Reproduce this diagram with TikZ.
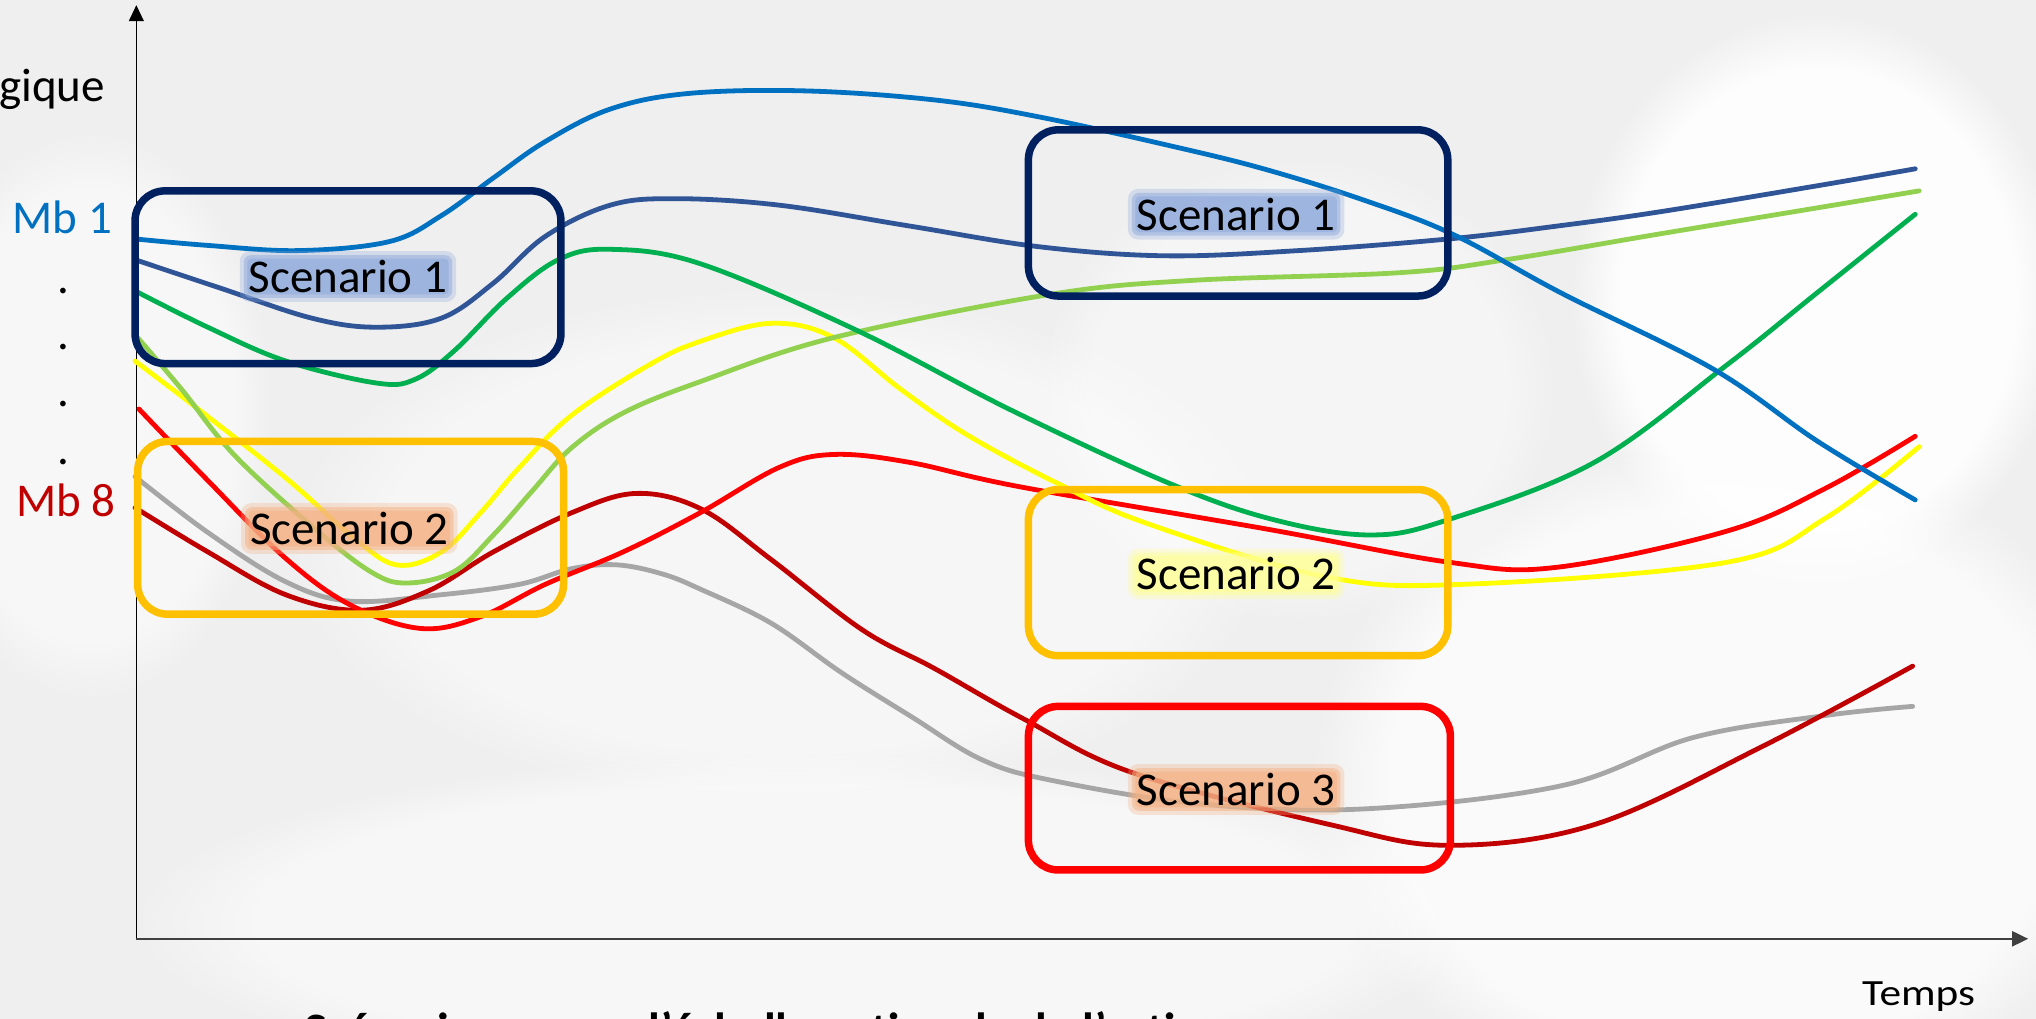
\documentclass[tikz,border=0pt]{standalone}
\usepackage{fontspec}
\setmainfont{Carlito}
\newfontfamily\symfont{DejaVu Sans}
\newfontfamily\widefont[FakeStretch=1.17]{Carlito}
\usetikzlibrary{arrows.meta,fadings}

\definecolor{cBlue}{HTML}{0070C0}
\definecolor{cNavyL}{HTML}{2F5597}
\definecolor{cGreen}{HTML}{00B050}
\definecolor{cLGreen}{HTML}{92D050}
\definecolor{cYellow}{HTML}{FFFF00}
\definecolor{cRed}{HTML}{FF0000}
\definecolor{cDRed}{HTML}{C00000}
\definecolor{cGrey}{HTML}{A6A6A6}
\definecolor{cNavy}{HTML}{002060}
\definecolor{cOrange}{HTML}{FFC000}
\definecolor{gBlue}{HTML}{8FAADC}
\definecolor{gOrange}{HTML}{F4B183}
\definecolor{gYellow}{HTML}{FFFF99}
\definecolor{bgc}{HTML}{EFEFEF}
\definecolor{axisc}{HTML}{404040}

\newcommand\glowlabel[4]{%
  \node[lbl, fill=#3, fill opacity=0.3, text opacity=0, rounded corners=10pt, inner sep=9pt] (#1g1) at #2 {#4};
  \node[lbl, fill=#3, fill opacity=0.5, text opacity=0, rounded corners=7pt, inner sep=5pt] (#1g2) at #2 {#4};
  \node[lbl, fill=#3, fill opacity=0.55, text opacity=0, rounded corners=4pt, inner sep=1.5pt] (#1g3) at #2 {#4};
  \node[lbl, inner sep=0pt] (#1) at #2 {#4};
}

\begin{document}
\begin{tikzpicture}[x=1.2985pt,y=-1.2985pt,
  curve/.style={line width=4.8pt, line cap=round},
  frame/.style={line width=7.5pt, rounded corners=30pt},
  lbl/.style={font=\fontsize{47}{56}\selectfont},
  side/.style={font=\fontsize{47}{56}\selectfont, inner sep=0pt},
  cloud/.style={fill=white, path fading=circle with fuzzy edge 20 percent},
  sm/.style={smooth, tension=0.6},
]
\useasboundingbox (0,0) rectangle (1568,784.75);
\clip (0,0) rectangle (1568,784.75);

% background sky
\fill[bgc] (0,0) rectangle (1568,784.75);
\fill[cloud, opacity=0.9] (1400,230) ellipse (190 and 220);
\fill[cloud, opacity=0.75] (1330,600) ellipse (320 and 260);
\fill[cloud, opacity=0.55] (620,710) ellipse (520 and 130);
\fill[cloud, opacity=0.5] (70,320) ellipse (140 and 220);
\fill[cloud, opacity=0.45] (600,420) ellipse (380 and 200);
\fill[cloud, opacity=0.4] (1000,300) ellipse (200 and 180);

% axes
\coordinate (O) at (105,723);
\coordinate (Ytop) at (105,4);
\coordinate (Xend) at (1562,723);
\draw[line width=1.2pt, -{Triangle[length=16pt,width=15pt]}] (O) -- (Ytop);
\draw[axisc, line width=2pt, -{Triangle[length=16pt,width=15pt]}] (O) -- (Xend);

% curves
\draw[curve, cGrey] plot[sm] coordinates {(104,367) (160,410) (220,448) (270,463) (340,458) (400,450) (440,438) (475,435) (510,442) (540,454) (594,480) (648,518) (702,552) (756,585) (810,601) (923,619) (1050,623) (1203,605) (1304,568) (1406,551) (1473,544)};
\draw[curve, cDRed] plot[sm] coordinates {(104,391) (160,425) (220,458) (278,470) (330,455) (380,425) (440,395) (490,380) (540,392) (594,431) (664,485) (720,515) (789,554) (872,595) (1024,635) (1116,651) (1228,635) (1355,576) (1473,513)};
\draw[curve, cRed] plot[sm] coordinates {(107,315) (160,370) (220,430) (270,466) (324,484) (370,475) (420,450) (480,425) (539,395) (600,360) (642,350) (700,356) (786,375) (973,407) (1116,433) (1198,437) (1330,409) (1406,376) (1475,336)};
\draw[curve, cYellow] plot[sm] coordinates {(104,278) (150,313) (220,368) (270,412) (305,435) (340,425) (370,395) (400,360) (440,320) (500,281) (539,263) (594,249) (642,260) (694,300) (745,335) (814,372) (883,403) (1020,444) (1127,450) (1330,433) (1406,399) (1478,344)};
\draw[curve, cLGreen] plot[sm] coordinates {(106,260) (140,300) (180,350) (240,405) (285,440) (313,449) (350,440) (380,412) (410,378) (440,345) (480,318) (539,294) (642,260) (807,227) (917,216) (1078,210) (1160,200) (1279,180) (1400,160) (1478,147)};
\draw[curve, cGreen] plot[sm] coordinates {(104,224) (160,252) (220,278) (290,295) (320,292) (350,270) (390,230) (430,200) (470,192) (539,203) (659,254) (779,316) (900,372) (980,400) (1055,412) (1116,400) (1228,356) (1330,281) (1400,225) (1475,165)};
\draw[curve, cNavyL] plot[sm] coordinates {(104,200) (170,222) (240,245) (290,252) (340,245) (380,218) (420,182) (470,158) (520,153) (600,158) (700,174) (800,190) (897,197) (1000,193) (1116,184) (1200,174) (1279,163) (1400,143) (1475,130)};
\draw[curve, cBlue] plot[sm] coordinates {(104,184) (160,189) (230,193) (300,186) (340,166) (380,137) (420,109) (470,84) (530,72) (620,70) (720,77) (800,90) (900,112) (973,130) (1050,154) (1120,181) (1203,226) (1319,284) (1400,340) (1475,385)};

% scenario frames
\draw[frame, cNavy] (104,147) rectangle (432,280);
\draw[frame, cOrange] (106,340) rectangle (434,473);
\draw[frame, cNavy] (792,100) rectangle (1115,228);
\draw[frame, cOrange] (792,377) rectangle (1115,505);
\draw[frame, cRed] (792,544) rectangle (1117,670);

% scenario labels
\glowlabel{s1a}{(268,213)}{gBlue}{Scenario 1}
\glowlabel{s2a}{(269,407)}{gOrange}{Scenario 2}
\glowlabel{s1b}{(952,165)}{gBlue}{Scenario 1}
\glowlabel{s2b}{(952,442)}{gYellow}{Scenario 2}
\glowlabel{s3b}{(952,608)}{gOrange}{Scenario 3}

% axis texts
\node[side, anchor=base east] (ylab) at (81,78) {Trajectoire technologique};
\node[side, anchor=base west, text=cBlue] (mb1) at (9.5,180) {Mb 1};
\node[side, anchor=base west, text=cDRed] (mb8) at (12.5,398) {Mb 8};
\node[side, anchor=base] (d1) at (49,226) {.};
\node[side, anchor=base] (d2) at (49,269) {.};
\node[side, anchor=base] (d3) at (49,313) {.};
\node[side, anchor=base] (d4) at (49,358) {.};
\node[inner sep=0pt, anchor=base west, font=\widefont\fontsize{37}{44}\selectfont] (temps) at (1434,774) {Temps};

% bottom title (cut by the frame)
\node[inner sep=0pt, anchor=base west, font=\bfseries\fontsize{48}{58}\selectfont] (titre) at (234,806) {Scénarios {\symfont ➔} vers l'échelle nationale de l'action};
\end{tikzpicture}
\end{document}
